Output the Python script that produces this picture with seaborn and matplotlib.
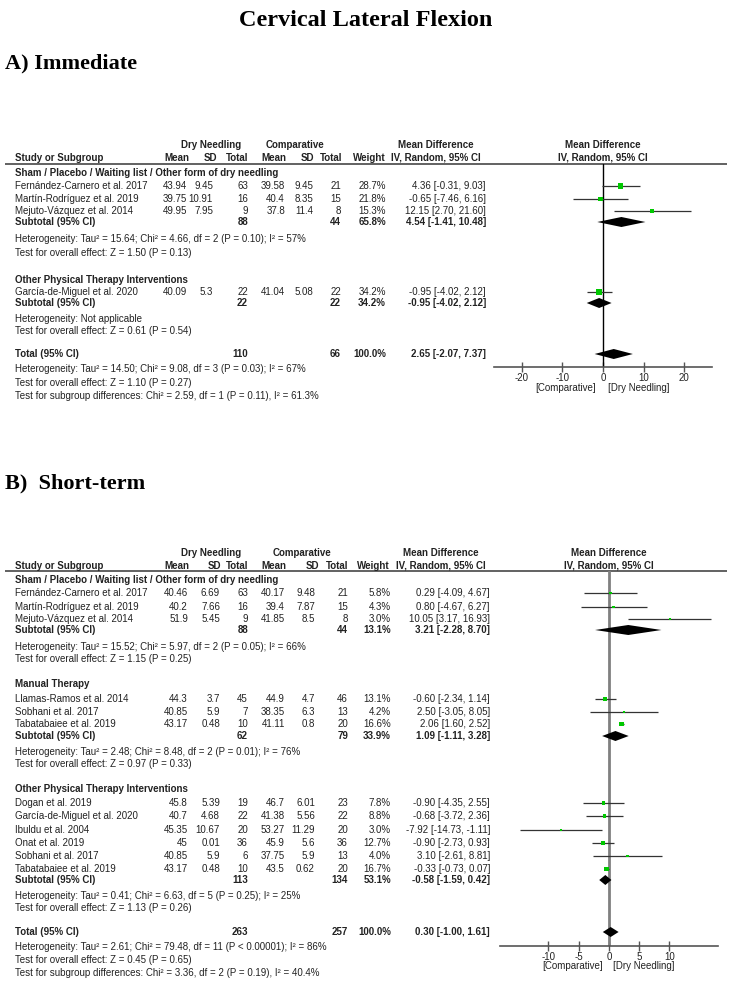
import matplotlib
matplotlib.use("Agg")
import matplotlib.pyplot as plt
import seaborn as sns
import pandas as pd

W, H = 733, 992

# ---------------- A) Immediate ----------------
a_groups = ["Sham / Placebo / Waiting list / Other form of dry needling",
            "Other Physical Therapy Interventions"]
a_study = ["Fernández-Carnero et al. 2017", "Martín-Rodríguez et al. 2019",
           "Mejuto-Vázquez et al. 2014", "García-de-Miguel et al. 2020"]
a_dn_mean = [43.94, 39.75, 49.95, 40.09]
a_dn_sd = [9.45, 10.91, 7.95, 5.3]
a_dn_n = [63, 16, 9, 22]
a_c_mean = [39.58, 40.4, 37.8, 41.04]
a_c_sd = [9.45, 8.35, 11.4, 5.08]
a_c_n = [21, 15, 8, 22]
a_weight = [28.7, 21.8, 15.3, 34.2]
a_md = [4.36, -0.65, 12.15, -0.95]
a_lo = [-0.31, -7.46, 2.70, -4.02]
a_hi = [9.03, 6.16, 21.60, 2.12]
a_sub_dn_n = [88, 22]
a_sub_c_n = [44, 22]
a_sub_weight = [65.8, 34.2]
a_sub_md = [4.54, -0.95]
a_sub_lo = [-1.41, -4.02]
a_sub_hi = [10.48, 2.12]
a_sub_het = ["Heterogeneity: Tau² = 15.64; Chi² = 4.66, df = 2 (P = 0.10); I² = 57%",
             "Heterogeneity: Not applicable"]
a_sub_z = ["Test for overall effect: Z = 1.50 (P = 0.13)",
           "Test for overall effect: Z = 0.61 (P = 0.54)"]
a_tot = [110, 66, 100.0, 2.65, -2.07, 7.37]
a_tot_notes = ["Heterogeneity: Tau² = 14.50; Chi² = 9.08, df = 3 (P = 0.03); I² = 67%",
               "Test for overall effect: Z = 1.10 (P = 0.27)",
               "Test for subgroup differences: Chi² = 2.59, df = 1 (P = 0.11), I² = 61.3%"]
a_ticks = [-20, -10, 0, 10, 20]

# ---------------- B) Short-term ----------------
b_groups = ["Sham / Placebo / Waiting list / Other form of dry needling",
            "Manual Therapy",
            "Other Physical Therapy Interventions"]
b_study = ["Fernández-Carnero et al. 2017", "Martín-Rodríguez et al. 2019",
           "Mejuto-Vázquez et al. 2014",
           "Llamas-Ramos et al. 2014", "Sobhani et al. 2017", "Tabatabaiee et al. 2019",
           "Dogan et al. 2019", "García-de-Miguel et al. 2020", "Ibuldu et al. 2004",
           "Onat et al. 2019", "Sobhani et al. 2017", "Tabatabaiee et al. 2019"]
b_dn_mean = [40.46, 40.2, 51.9, 44.3, 40.85, 43.17, 45.8, 40.7, 45.35, 45, 40.85, 43.17]
b_dn_sd = [6.69, 7.66, 5.45, 3.7, 5.9, 0.48, 5.39, 4.68, 10.67, 0.01, 5.9, 0.48]
b_dn_n = [63, 16, 9, 45, 7, 10, 19, 22, 20, 36, 6, 10]
b_c_mean = [40.17, 39.4, 41.85, 44.9, 38.35, 41.11, 46.7, 41.38, 53.27, 45.9, 37.75, 43.5]
b_c_sd = [9.48, 7.87, 8.5, 4.7, 6.3, 0.8, 6.01, 5.56, 11.29, 5.6, 5.9, 0.62]
b_c_n = [21, 15, 8, 46, 13, 20, 23, 22, 20, 36, 13, 20]
b_weight = [5.8, 4.3, 3.0, 13.1, 4.2, 16.6, 7.8, 8.8, 3.0, 12.7, 4.0, 16.7]
b_md = [0.29, 0.80, 10.05, -0.60, 2.50, 2.06, -0.90, -0.68, -7.92, -0.90, 3.10, -0.33]
b_lo = [-4.09, -4.67, 3.17, -2.34, -3.05, 1.60, -4.35, -3.72, -14.73, -2.73, -2.61, -0.73]
b_hi = [4.67, 6.27, 16.93, 1.14, 8.05, 2.52, 2.55, 2.36, -1.11, 0.93, 8.81, 0.07]
b_sub_dn_n = [88, 62, 113]
b_sub_c_n = [44, 79, 134]
b_sub_weight = [13.1, 33.9, 53.1]
b_sub_md = [3.21, 1.09, -0.58]
b_sub_lo = [-2.28, -1.11, -1.59]
b_sub_hi = [8.70, 3.28, 0.42]
b_sub_het = ["Heterogeneity: Tau² = 15.52; Chi² = 5.97, df = 2 (P = 0.05); I² = 66%",
             "Heterogeneity: Tau² = 2.48; Chi² = 8.48, df = 2 (P = 0.01); I² = 76%",
             "Heterogeneity: Tau² = 0.41; Chi² = 6.63, df = 5 (P = 0.25); I² = 25%"]
b_sub_z = ["Test for overall effect: Z = 1.15 (P = 0.25)",
           "Test for overall effect: Z = 0.97 (P = 0.33)",
           "Test for overall effect: Z = 1.13 (P = 0.26)"]
b_tot = [263, 257, 100.0, 0.30, -1.00, 1.61]
b_tot_notes = ["Heterogeneity: Tau² = 2.61; Chi² = 79.48, df = 11 (P < 0.00001); I² = 86%",
               "Test for overall effect: Z = 0.45 (P = 0.65)",
               "Test for subgroup differences: Chi² = 3.36, df = 2 (P = 0.19), I² = 40.4%"]
b_ticks = [-10, -5, 0, 5, 10]

panel_a = dict(groups=a_groups, study=a_study, dn_mean=a_dn_mean, dn_sd=a_dn_sd, dn_n=a_dn_n,
               c_mean=a_c_mean, c_sd=a_c_sd, c_n=a_c_n, weight=a_weight, md=a_md, lo=a_lo, hi=a_hi,
               sub_dn_n=a_sub_dn_n, sub_c_n=a_sub_c_n, sub_weight=a_sub_weight, sub_md=a_sub_md,
               sub_lo=a_sub_lo, sub_hi=a_sub_hi, sub_het=a_sub_het, sub_z=a_sub_z,
               tot=a_tot, tot_notes=a_tot_notes, ticks=a_ticks)
panel_b = dict(groups=b_groups, study=b_study, dn_mean=b_dn_mean, dn_sd=b_dn_sd, dn_n=b_dn_n,
               c_mean=b_c_mean, c_sd=b_c_sd, c_n=b_c_n, weight=b_weight, md=b_md, lo=b_lo, hi=b_hi,
               sub_dn_n=b_sub_dn_n, sub_c_n=b_sub_c_n, sub_weight=b_sub_weight, sub_md=b_sub_md,
               sub_lo=b_sub_lo, sub_hi=b_sub_hi, sub_het=b_sub_het, sub_z=b_sub_z,
               tot=b_tot, tot_notes=b_tot_notes, ticks=b_ticks)

# layout (pixels) for each panel
lay_a = dict(top=145, line=164, axis=367, lab_y=388,
             group_y=[173, 280], study_y=[186, 199, 211, 292], sub_y=[222, 303],
             note_y=[(239, 253), (319, 331)], tot_y=354, tot_note_y=[369, 383, 396],
             hdr_x=[189, 217, 248, 286, 314, 342, 386], val_x=[187, 213, 248, 285, 313, 341, 386],
             md_x=486, md_hdr=436, dn_hdr=211, c_hdr=295, plot_hdr=603,
             x0=493.6, x1=712.4, xlim=(-27, 27), zero_col="black", zero_lw=1.0,
             sq_max=18.7, diam=5.0, lab_comp=566, lab_dn=639)
lay_b = dict(top=553, line=571, axis=946, lab_y=966,
             group_y=[580, 684, 789],
             study_y=[593, 607, 619, 699, 712, 724, 803, 816, 830, 843, 856, 869],
             sub_y=[630, 736, 880], note_y=[(647, 659), (752, 764), (896, 908)],
             tot_y=932, tot_note_y=[947, 960, 973],
             hdr_x=[189, 221, 248, 286, 319, 348, 390], val_x=[188, 220, 248, 285, 315, 348, 391],
             md_x=490, md_hdr=441, dn_hdr=211, c_hdr=302, plot_hdr=609,
             x0=500.0, x1=717.7, xlim=(-18, 18), zero_col="#808080", zero_lw=2.0,
             sq_max=11.5, diam=5.0, lab_comp=573, lab_dn=644)

sns.set_theme(style="white")
plt.rcParams["font.family"] = ["Liberation Sans", "DejaVu Sans"]
plt.rcParams["axes.unicode_minus"] = False

TXT = "#222222"
FS = 7
GREEN = "#00c800"

fig = plt.figure(figsize=(W / 100, H / 100), dpi=100)
bg = fig.add_axes([0, 0, 1, 1])
bg.set_xlim(0, W)
bg.set_ylim(H, 0)
bg.axis("off")


def txt(x, y, s, ha="left", bold=False, **kw):
    bg.text(x, y, s, ha=ha, va="center", fontsize=FS, color=TXT,
            fontweight="bold" if bold else "normal", **kw)


def fmt_md(m, lo, hi):
    return f"{m:.2f} [{lo:.2f}, {hi:.2f}]"


def draw_panel(d, lay):
    # column headers
    t = lay["top"]
    r = t + 13
    txt(lay["dn_hdr"], t, "Dry Needling", ha="center", bold=True)
    txt(lay["c_hdr"], t, "Comparative", ha="center", bold=True)
    txt(lay["md_hdr"], t, "Mean Difference", ha="center", bold=True)
    txt(lay["plot_hdr"], t, "Mean Difference", ha="center", bold=True)
    txt(15, r, "Study or Subgroup", bold=True)
    for x, h in zip(lay["hdr_x"], ["Mean", "SD", "Total", "Mean", "SD", "Total", "Weight"]):
        txt(x, r, h, ha="right", bold=True)
    txt(lay["md_hdr"], r, "IV, Random, 95% CI", ha="center", bold=True)
    txt(lay["plot_hdr"], r, "IV, Random, 95% CI", ha="center", bold=True)
    bg.hlines(lay["line"], 5, 727, color="#555555", lw=1.3)

    # study rows
    vx = lay["val_x"]
    for i, name in enumerate(d["study"]):
        y = lay["study_y"][i]
        txt(15, y, name)
        vals = [f"{d['dn_mean'][i]:g}", f"{d['dn_sd'][i]:g}", f"{d['dn_n'][i]}",
                f"{d['c_mean'][i]:g}", f"{d['c_sd'][i]:g}", f"{d['c_n'][i]}",
                f"{d['weight'][i]:.1f}%"]
        for x, v in zip(vx, vals):
            txt(x, y, v, ha="right")
        txt(lay["md_x"], y, fmt_md(d["md"][i], d["lo"][i], d["hi"][i]), ha="right")

    # subgroups
    for g, name in enumerate(d["groups"]):
        txt(15, lay["group_y"][g], name, bold=True)
        y = lay["sub_y"][g]
        txt(15, y, "Subtotal (95% CI)", bold=True)
        txt(vx[2], y, f"{d['sub_dn_n'][g]}", ha="right", bold=True)
        txt(vx[5], y, f"{d['sub_c_n'][g]}", ha="right", bold=True)
        txt(vx[6], y, f"{d['sub_weight'][g]:.1f}%", ha="right", bold=True)
        txt(lay["md_x"], y, fmt_md(d["sub_md"][g], d["sub_lo"][g], d["sub_hi"][g]),
            ha="right", bold=True)
        y1, y2 = lay["note_y"][g]
        txt(15, y1, d["sub_het"][g])
        txt(15, y2, d["sub_z"][g])

    # total
    tn, tc, tw, tm, tl, th = d["tot"]
    y = lay["tot_y"]
    txt(15, y, "Total (95% CI)", bold=True)
    txt(vx[2], y, f"{tn}", ha="right", bold=True)
    txt(vx[5], y, f"{tc}", ha="right", bold=True)
    txt(vx[6], y, f"{tw:.1f}%", ha="right", bold=True)
    txt(lay["md_x"], y, fmt_md(tm, tl, th), ha="right", bold=True)
    for yy, note in zip(lay["tot_note_y"], d["tot_notes"]):
        txt(15, yy, note)

    # forest axes in pixel rows
    x0, x1 = lay["x0"], lay["x1"]
    yt, yb = lay["line"], lay["axis"]
    ax = fig.add_axes([x0 / W, 1 - yb / H, (x1 - x0) / W, (yb - yt) / H])
    ax.set_facecolor("none")
    ax.set_xlim(*lay["xlim"])
    ax.set_ylim(yb, yt)

    ax.axvline(0, color=lay["zero_col"], lw=lay["zero_lw"], zorder=1)
    ax.hlines(lay["study_y"], d["lo"], d["hi"], color="#333333", lw=0.9, zorder=2)

    df = pd.DataFrame({"md": d["md"], "y": lay["study_y"], "w": d["weight"]})
    sns.scatterplot(data=df, x="md", y="y", size="w", sizes=(0, lay["sq_max"]),
                    size_norm=(0, max(d["weight"])), marker="s", color=GREEN,
                    linewidth=0, legend=False, ax=ax, zorder=3)

    h = lay["diam"]
    diamonds = list(zip(d["sub_md"], d["sub_lo"], d["sub_hi"], lay["sub_y"]))
    diamonds.append((tm, tl, th, lay["tot_y"]))
    for m, lo, hi, yy in diamonds:
        ax.fill([lo, m, hi, m], [yy, yy - h, yy, yy + h], color="black", lw=0, zorder=4)

    for s in ["top", "left", "right"]:
        ax.spines[s].set_visible(False)
    ax.spines["bottom"].set_color("#555555")
    ax.spines["bottom"].set_linewidth(1.2)
    ax.set_yticks([])
    ax.set_xticks(d["ticks"])
    ax.set_xticklabels([str(v) for v in d["ticks"]])
    ax.tick_params(axis="x", direction="inout", length=7, width=1, color="#555555",
                   labelsize=FS, labelcolor=TXT, pad=1, bottom=True)
    ax.set_xlabel("")
    ax.set_ylabel("")

    txt(lay["lab_comp"], lay["lab_y"], "[Comparative]", ha="center")
    txt(lay["lab_dn"], lay["lab_y"], "[Dry Needling]", ha="center")


bg.text(366, 21, "Cervical Lateral Flexion", ha="center", va="center",
        fontsize=17.5, fontweight="bold", family="Liberation Serif", color="black")
bg.text(5, 63, "A) Immediate", ha="left", va="center",
        fontsize=16, fontweight="bold", family="Liberation Serif", color="black")
bg.text(5, 483, "B)  Short-term", ha="left", va="center",
        fontsize=16, fontweight="bold", family="Liberation Serif", color="black")

draw_panel(panel_a, lay_a)
draw_panel(panel_b, lay_b)

fig.savefig("out.png", dpi=100)
